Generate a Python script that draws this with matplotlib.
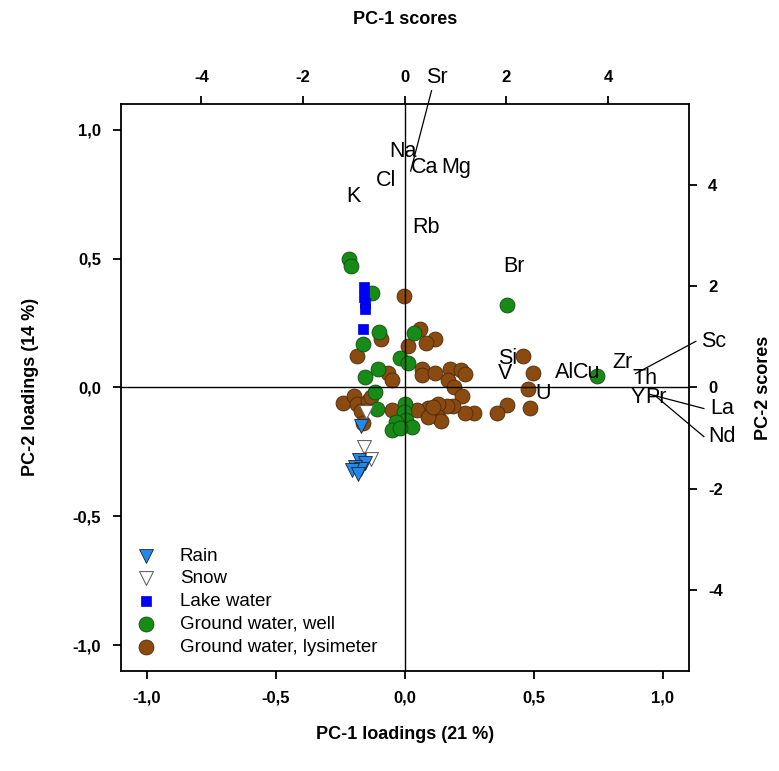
import numpy as np
import matplotlib.pyplot as plt
from matplotlib.ticker import FuncFormatter

plt.rcParams['font.family'] = ['Liberation Sans', 'DejaVu Sans']
plt.rcParams['axes.unicode_minus'] = False

# PCA loadings (element labels)
elements = ['Na', 'Ca', 'Mg', 'Cl', 'K', 'Rb', 'Br', 'Si', 'V', 'Al', 'Cu', 'U',
            'Zr', 'Th', 'Y', 'Pr', 'Sr', 'Sc', 'La', 'Nd']
load_pc1 = [-0.008, 0.078, 0.198, -0.074, -0.198, 0.081, 0.422, 0.399, 0.388, 0.620,
            0.705, 0.535, 0.845, 0.930, 0.903, 0.972, 0.023, 0.895, 0.950, 0.969]
load_pc2 = [0.914, 0.852, 0.852, 0.805, 0.743, 0.619, 0.471, 0.113, 0.054, 0.058,
            0.058, -0.023, 0.097, 0.035, -0.039, -0.039, 0.840, 0.054, -0.027, -0.031]
# labels moved away from crowded loadings, joined by a leader line
moved_labels = {'Sr': (0.124, 1.202), 'Sc': (1.198, 0.179),
                'La': (1.229, -0.082), 'Nd': (1.229, -0.191)}

# PCA scores of samples
rain_x = [-0.85, -0.89, -0.79, -0.97, -0.85, -1.03, -0.91]
rain_y = [-0.77, -1.44, -1.50, -1.56, -1.60, -1.62, -1.70]
snow_x = [-0.77, -0.81, -0.67]
snow_y = [-0.49, -1.18, -1.42]
lake_x = [-0.81, -0.81, -0.79, -0.79, -0.83]
lake_y = [1.99, 1.79, 1.66, 1.54, 1.16]
well_x = [-1.10, -1.05, -0.65, -0.51, -0.83, 0.18, -0.10, 0.06, -0.53, -0.79, -0.59,
          -0.55, 0.00, -0.02, 0.02, -0.18, -0.24, 0.14, -0.10, 2.01, 3.79]
well_y = [2.54, 2.39, 1.87, 1.10, 0.85, 1.07, 0.59, 0.49, 0.36, 0.20, -0.10,
          -0.43, -0.32, -0.49, -0.65, -0.69, -0.83, -0.79, -0.81, 1.62, 0.22]
lys_x = [-0.02, 0.30, 0.59, 0.41, 0.06, -0.47, -0.93, 2.33, 2.52, 2.43, 2.47, 2.01,
         1.81, 1.36, 1.18, 0.34, 0.34, 0.59, 0.89, 1.10, 1.18, 0.85, 0.97, 1.12,
         0.95, 0.83, 0.65, 0.65, 0.71, 0.45, 0.24, 0.45, 0.55, -0.32, -0.24, -1.22,
         -0.99, -0.93, -0.73, -0.85, -0.83, -0.24, -0.67]
lys_y = [1.81, 1.16, 0.95, 0.87, 0.81, 0.95, 0.61, 0.61, 0.28, -0.04, -0.41, -0.34,
         -0.51, -0.51, -0.51, 0.37, 0.24, 0.28, 0.36, 0.34, 0.26, 0.14, 0.00, -0.16,
         -0.36, -0.36, -0.32, -0.59, -0.67, -0.41, -0.45, -0.59, -0.39, 0.28, 0.14, -0.30,
         -0.16, -0.32, -0.26, -0.47, -0.71, -0.45, -0.18]

fig = plt.figure(figsize=(7.79, 7.71), dpi=100)
rect = [0.155, 0.130, 0.729, 0.735]
ax_s = fig.add_axes(rect)
ax_l = fig.add_axes(rect, facecolor='none')

lim_l = 1.1
lim_s = 1.1 * 5.08

# scores axes (top / right)
ax_s.scatter(lys_x, lys_y, s=115, marker='o', color='#8B4A10', edgecolor='#4a2a0a',
             linewidth=0.6, label='Ground water, lysimeter', zorder=3)
ax_s.scatter(well_x, well_y, s=115, marker='o', color='#178A17', edgecolor='#0d4d0d',
             linewidth=0.6, label='Ground water, well', zorder=4)
ax_s.scatter(lake_x, lake_y, s=60, marker='s', color='#0000FF', edgecolor='#0000cc',
             linewidth=0.5, label='Lake water', zorder=5)
ax_s.scatter(snow_x, snow_y, s=100, marker='v', color='white', edgecolor='#666666',
             linewidth=0.8, label='Snow', zorder=5)
ax_s.scatter(rain_x, rain_y, s=100, marker='v', color='#2188EE', edgecolor='#222222',
             linewidth=0.6, label='Rain', zorder=6)
ax_s.set_xlim(-lim_s, lim_s)
ax_s.set_ylim(-lim_s, lim_s)
ax_s.xaxis.tick_top()
ax_s.yaxis.tick_right()
ax_s.xaxis.set_label_position('top')
ax_s.yaxis.set_label_position('right')
ax_s.set_xticks([-4, -2, 0, 2, 4])
ax_s.set_yticks([-4, -2, 0, 2, 4])
for sp in ax_s.spines.values():
    sp.set_visible(False)
ax_s.set_xlabel('PC-1 scores', fontsize=13, fontweight='bold', labelpad=33)
ax_s.set_ylabel('PC-2 scores', fontsize=13, fontweight='bold', labelpad=23)

handles, labels = ax_s.get_legend_handles_labels()
order = ['Rain', 'Snow', 'Lake water', 'Ground water, well', 'Ground water, lysimeter']
hmap = dict(zip(labels, handles))
ax_s.legend([hmap[k] for k in order], order, loc='lower left', frameon=False,
            fontsize=13.5, handletextpad=0.8, labelspacing=0.3,
            bbox_to_anchor=(-0.018, -0.003))

# loadings axes (bottom / left)
ax_l.set_xlim(-lim_l, lim_l)
ax_l.set_ylim(-lim_l, lim_l)
ax_l.axhline(0, color='black', linewidth=1.0, zorder=1)
ax_l.axvline(0, color='black', linewidth=1.0, zorder=1)
for name, lx, ly in zip(elements, load_pc1, load_pc2):
    if name in moved_labels:
        tx, ty = moved_labels[name]
        ax_l.plot([lx, tx - 0.07 if name != 'Sr' else tx - 0.02],
                  [ly, ty if name != 'Sr' else ty - 0.05],
                  color='black', linewidth=0.9, clip_on=False)
        ax_l.text(tx, ty, name, fontsize=15.5, ha='center', va='center', clip_on=False)
    else:
        ax_l.text(lx, ly, name, fontsize=15.5, ha='center', va='center')
ax_l.set_xticks([-1.0, -0.5, 0.0, 0.5, 1.0])
ax_l.set_yticks([-1.0, -0.5, 0.0, 0.5, 1.0])
comma = FuncFormatter(lambda v, p: f"{v:.1f}".replace('.', ','))
ax_l.xaxis.set_major_formatter(comma)
ax_l.yaxis.set_major_formatter(comma)
for sp in ax_l.spines.values():
    sp.set_linewidth(1.3)
ax_l.set_xlabel('PC-1 loadings (21 %)', fontsize=13, fontweight='bold', labelpad=15)
ax_l.set_ylabel('PC-2 loadings (14 %)', fontsize=13, fontweight='bold', labelpad=24)

for a in (ax_s, ax_l):
    a.tick_params(direction='out', length=6, width=1.3, labelsize=12, pad=8)
    for t in a.get_xticklabels() + a.get_yticklabels():
        t.set_fontweight('bold')

fig.savefig('out.png', dpi=100)
